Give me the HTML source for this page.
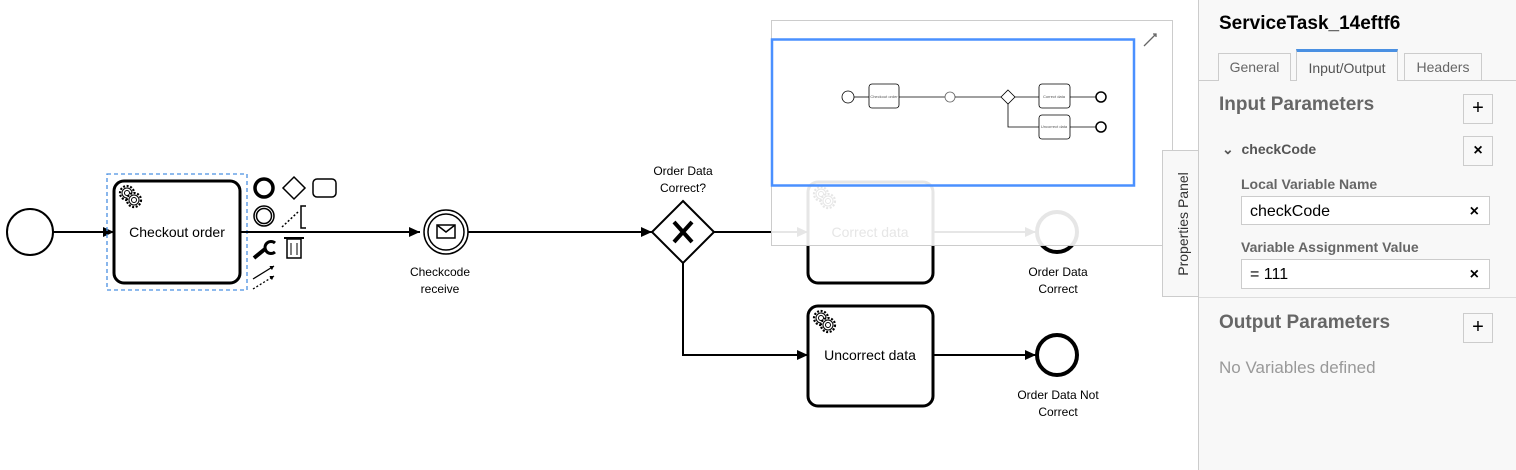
<!DOCTYPE html>
<html><head><meta charset="utf-8"><style>
html,body{margin:0;padding:0;width:1516px;height:470px;overflow:hidden;background:#fff;font-family:"Liberation Sans",Arial,sans-serif;}
</style></head><body>
<svg width="1516" height="470" xmlns="http://www.w3.org/2000/svg" style="position:absolute;left:0;top:0" font-family="Liberation Sans, Arial, sans-serif">
<defs>
<marker id="a" markerWidth="12" markerHeight="12" refX="11" refY="6" orient="auto" markerUnits="userSpaceOnUse"><path d="M0,1 L11,6 L0,11 Z" fill="#000"/></marker>
<marker id="s" markerWidth="5" markerHeight="5" refX="4" refY="2.5" orient="auto" markerUnits="userSpaceOnUse"><path d="M0,0 L4,2.5 L0,5 Z" fill="#000"/></marker>
<g id="gear"><circle cx="0" cy="0" r="7" fill="#fff" stroke="#000" stroke-width="2.2" stroke-dasharray="2 1.6"/><circle cx="0" cy="0" r="5" fill="#fff" stroke="#000" stroke-width="1"/><circle cx="0" cy="0" r="2.5" fill="none" stroke="#000"/></g>
</defs>
<circle cx="30" cy="232" r="23" fill="#fff" stroke="#000" stroke-width="2"/>
<line x1="53" y1="232" x2="114" y2="232" stroke="#000" stroke-width="2" marker-end="url(#a)"/>
<rect x="107" y="174" width="140" height="116" fill="none" stroke="#4a90e2" stroke-width="1.3" stroke-dasharray="4 3"/>
<rect x="114" y="181" width="126" height="102" rx="10" fill="#fff" stroke="#000" stroke-width="3"/>
<use href="#gear" x="127" y="193"/><use href="#gear" x="134" y="200"/>
<text x="177" y="237" font-size="14" text-anchor="middle">Checkout order</text>
<line x1="240" y1="232" x2="420" y2="232" stroke="#000" stroke-width="2" marker-end="url(#a)"/>
<circle cx="264" cy="188" r="9" fill="none" stroke="#000" stroke-width="3.5"/>
<path d="M294,177 L305,188 L294,199 L283,188 Z" fill="#fff" stroke="#000" stroke-width="1.5"/>
<rect x="313" y="179" width="23" height="18" rx="4" fill="#fff" stroke="#000" stroke-width="1.5"/>
<circle cx="264" cy="216" r="10" fill="#fff" stroke="#000" stroke-width="1.5"/><circle cx="264" cy="216" r="7.5" fill="none" stroke="#000" stroke-width="1.5"/>
<path d="M282,227 L298,212" stroke="#000" stroke-width="1.5" stroke-dasharray="2 2"/>
<path d="M306,206 L301,206 L301,228 L306,228" fill="none" stroke="#000" stroke-width="1.5"/>
<path d="M254,258 L265,249" stroke="#000" stroke-width="4"/><path d="M275,243 A6,6 0 1 0 275,252" fill="none" stroke="#000" stroke-width="3"/>
<rect x="287" y="239" width="14" height="19" fill="#fff" stroke="#000" stroke-width="1.5"/><line x1="284" y1="238" x2="304" y2="238" stroke="#000" stroke-width="2"/><line x1="291" y1="243" x2="291" y2="255" stroke="#000"/><line x1="297" y1="243" x2="297" y2="255" stroke="#000"/>
<line x1="253" y1="279" x2="274" y2="266" stroke="#000" stroke-width="1.3" marker-end="url(#s)"/>
<line x1="253" y1="289" x2="274" y2="276" stroke="#000" stroke-width="1.3" stroke-dasharray="2 2" marker-end="url(#s)"/>
<circle cx="446" cy="232" r="22" fill="#fff" stroke="#000" stroke-width="1.5"/>
<circle cx="446" cy="232" r="18" fill="#fff" stroke="#000" stroke-width="1.5"/>
<rect x="437" y="225" width="18" height="13" fill="#fff" stroke="#000" stroke-width="1.5"/><path d="M437,225 L446,232 L455,225" fill="none" stroke="#000" stroke-width="1.5"/>
<text x="440" y="276" font-size="12" text-anchor="middle">Checkcode</text>
<text x="440" y="293" font-size="12" text-anchor="middle">receive</text>
<line x1="468" y1="232" x2="652" y2="232" stroke="#000" stroke-width="2" marker-end="url(#a)"/>
<path d="M683,201 L714,232 L683,263 L652,232 Z" fill="#fff" stroke="#000" stroke-width="2"/>
<path d="M674,222 L692,242 M692,222 L674,242" stroke="#000" stroke-width="4"/>
<text x="683" y="175" font-size="12" text-anchor="middle">Order Data</text>
<text x="683" y="192" font-size="12" text-anchor="middle">Correct?</text>
<line x1="714" y1="232" x2="808" y2="232" stroke="#000" stroke-width="2" marker-end="url(#a)"/>
<polyline points="683,263 683,355 808,355" fill="none" stroke="#000" stroke-width="2" marker-end="url(#a)"/>
<rect x="808" y="182" width="125" height="101" rx="10" fill="#fff" stroke="#000" stroke-width="3"/>
<use href="#gear" x="821" y="194"/><use href="#gear" x="828" y="201"/>
<line x1="933" y1="232" x2="1036" y2="232" stroke="#000" stroke-width="2" marker-end="url(#a)"/>
<circle cx="1057" cy="232" r="20" fill="#fff" stroke="#000" stroke-width="4"/>
<text x="1058" y="276" font-size="12" text-anchor="middle">Order Data</text>
<text x="1058" y="293" font-size="12" text-anchor="middle">Correct</text>
<rect x="808" y="306" width="125" height="100" rx="10" fill="#fff" stroke="#000" stroke-width="3"/>
<use href="#gear" x="821" y="318"/><use href="#gear" x="828" y="325"/>
<text x="870" y="360" font-size="14" text-anchor="middle">Uncorrect data</text>
<line x1="933" y1="355" x2="1036" y2="355" stroke="#000" stroke-width="2" marker-end="url(#a)"/>
<circle cx="1057" cy="355" r="20" fill="#fff" stroke="#000" stroke-width="4"/>
<text x="1058" y="399" font-size="12" text-anchor="middle">Order Data Not</text>
<text x="1058" y="416" font-size="12" text-anchor="middle">Correct</text>
<rect x="771.5" y="20.5" width="401" height="225" fill="#fff" fill-opacity="0.9" stroke="#ccc"/>
<text x="870" y="237" font-size="14" text-anchor="middle" fill="#e6e6e6">Correct data</text>
<rect x="772" y="39.5" width="362" height="146" fill="none" stroke="#4a90ff" stroke-width="2.5"/>
<path d="M1150,40 L1156,34 M1153,34 L1156,34 L1156,37 M1144,46 L1150,40" stroke="#666" stroke-width="1.3" fill="none"/>
<g stroke="#000" stroke-width="0.8" fill="#fff">
<circle cx="848" cy="97" r="6"/>
<line x1="854" y1="97" x2="869" y2="97"/>
<rect x="869" y="84" width="30" height="24" rx="3"/>
<line x1="899" y1="97" x2="945" y2="97"/>
<circle cx="950" cy="97" r="5" stroke="#666"/>
<line x1="955" y1="97" x2="1001" y2="97"/>
<path d="M1008,90 L1015,97 L1008,104 L1001,97 Z"/>
<line x1="1015" y1="97" x2="1039" y2="97"/>
<polyline points="1008,104 1008,127 1039,127" fill="none"/>
<rect x="1039" y="84" width="31" height="24" rx="3"/>
<rect x="1039" y="115" width="31" height="24" rx="3"/>
<line x1="1070" y1="97" x2="1096" y2="97"/><line x1="1070" y1="127" x2="1096" y2="127"/>
<circle cx="1101" cy="97" r="5" stroke-width="1.5"/><circle cx="1101" cy="127" r="5" stroke-width="1.5"/>
</g>
<g font-size="4" fill="#555" text-anchor="middle"><text x="884" y="98">Checkout order</text><text x="1054" y="98">Correct data</text><text x="1054" y="128">Uncorrect data</text></g>
<rect x="1162.5" y="150.5" width="40" height="146" fill="#f8f8f8" stroke="#ccc"/>
<text transform="translate(1188,224) rotate(-90)" font-size="14" text-anchor="middle" fill="#333">Properties Panel</text>
</svg>
<div style="position:absolute;left:1198px;top:0;width:318px;height:470px;background:#f8f8f8;border-left:1px solid #ccc;color:#333;">
 <div style="position:absolute;left:20px;top:13px;font-size:19px;font-weight:bold;color:#000">ServiceTask_14eftf6</div>
 <div style="position:absolute;left:0;top:80px;width:318px;border-top:1px solid #ccc"></div>
 <div style="position:absolute;left:19px;top:53px;width:71px;height:27px;border:1px solid #ccc;border-bottom:none;background:#f8f8f8;font-size:14px;color:#666;text-align:center;line-height:27px">General</div>
 <div style="position:absolute;left:97px;top:49px;width:102px;height:32px;border:1px solid #ccc;border-top:3px solid #4a90e2;border-bottom:none;background:#f8f8f8;font-size:14px;color:#555;text-align:center;line-height:32px;box-sizing:border-box">Input/Output</div>
 <div style="position:absolute;left:205px;top:53px;width:76px;height:27px;border:1px solid #ccc;border-bottom:none;font-size:14px;color:#666;text-align:center;line-height:27px">Headers</div>
 <div style="position:absolute;left:20px;top:94px;font-size:19px;font-weight:bold;color:#666">Input Parameters</div>
 <div style="position:absolute;left:264px;top:94px;width:28px;height:28px;border:1px solid #ccc;font-size:20px;text-align:center;line-height:27px;color:#000">+</div>
 <div style="position:absolute;left:23px;top:141px;font-size:14px;font-weight:bold;color:#555">⌄&nbsp; checkCode</div>
 <div style="position:absolute;left:264px;top:136px;width:28px;height:28px;border:1px solid #ccc;font-size:16px;font-weight:bold;text-align:center;line-height:28px;color:#000">×</div>
 <div style="position:absolute;left:42px;top:176px;font-size:14px;font-weight:bold;color:#666">Local Variable Name</div>
 <div style="position:absolute;left:42px;top:196px;width:249px;height:29px;border:1px solid #ccc;background:#fff;font-size:16px;line-height:29px;padding-left:8px;box-sizing:border-box;color:#000">checkCode<span style="position:absolute;right:10px;font-weight:bold">×</span></div>
 <div style="position:absolute;left:42px;top:239px;font-size:14px;font-weight:bold;color:#666">Variable Assignment Value</div>
 <div style="position:absolute;left:42px;top:259px;width:249px;height:30px;border:1px solid #ccc;background:#fff;font-size:16px;line-height:30px;padding-left:8px;box-sizing:border-box;color:#000">= 111<span style="position:absolute;right:10px;font-weight:bold">×</span></div>
 <div style="position:absolute;left:0;top:297px;width:318px;border-top:1px solid #ddd"></div>
 <div style="position:absolute;left:20px;top:312px;font-size:19px;font-weight:bold;color:#666">Output Parameters</div>
 <div style="position:absolute;left:264px;top:313px;width:28px;height:28px;border:1px solid #ccc;font-size:20px;text-align:center;line-height:27px;color:#000">+</div>
 <div style="position:absolute;left:20px;top:358px;font-size:17px;color:#999">No Variables defined</div>
</div>
</body></html>
